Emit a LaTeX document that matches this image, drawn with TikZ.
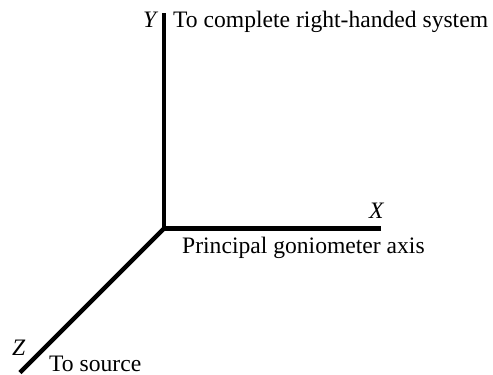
\documentclass[tikz,border=0pt]{standalone}
\usepackage{fontspec}
\setmainfont{Liberation Serif}
\begin{document}
\begin{tikzpicture}[x=1pt,y=-1pt,
  axis/.style={line width=4.5pt,black},
  lbl/.style={inner sep=0pt,anchor=base west,font=\fontsize{23.6}{28}\selectfont}]
\useasboundingbox (0,0) rectangle (493,375);
\coordinate (O) at (164,228.5);
\coordinate (Ye) at (164,13);
\coordinate (Xe) at (381,228.5);
\coordinate (Ze) at (20,372.5);
\draw[axis,line join=miter] (Xe) -- (O) -- (Ye);
\draw[axis] (O) -- (Ze);
\node[lbl] (ylab) at (143,27) {\itshape Y};
\node[lbl] (ytxt) at (173,27) {To complete right-handed system};
\node[lbl] (xlab) at (369,218) {\itshape X};
\node[lbl] (xtxt) at (182,253) {Principal goniometer axis};
\node[lbl] (zlab) at (12,355) {\itshape Z};
\node[lbl] (ztxt) at (49,371) {To source};
\end{tikzpicture}
\end{document}
